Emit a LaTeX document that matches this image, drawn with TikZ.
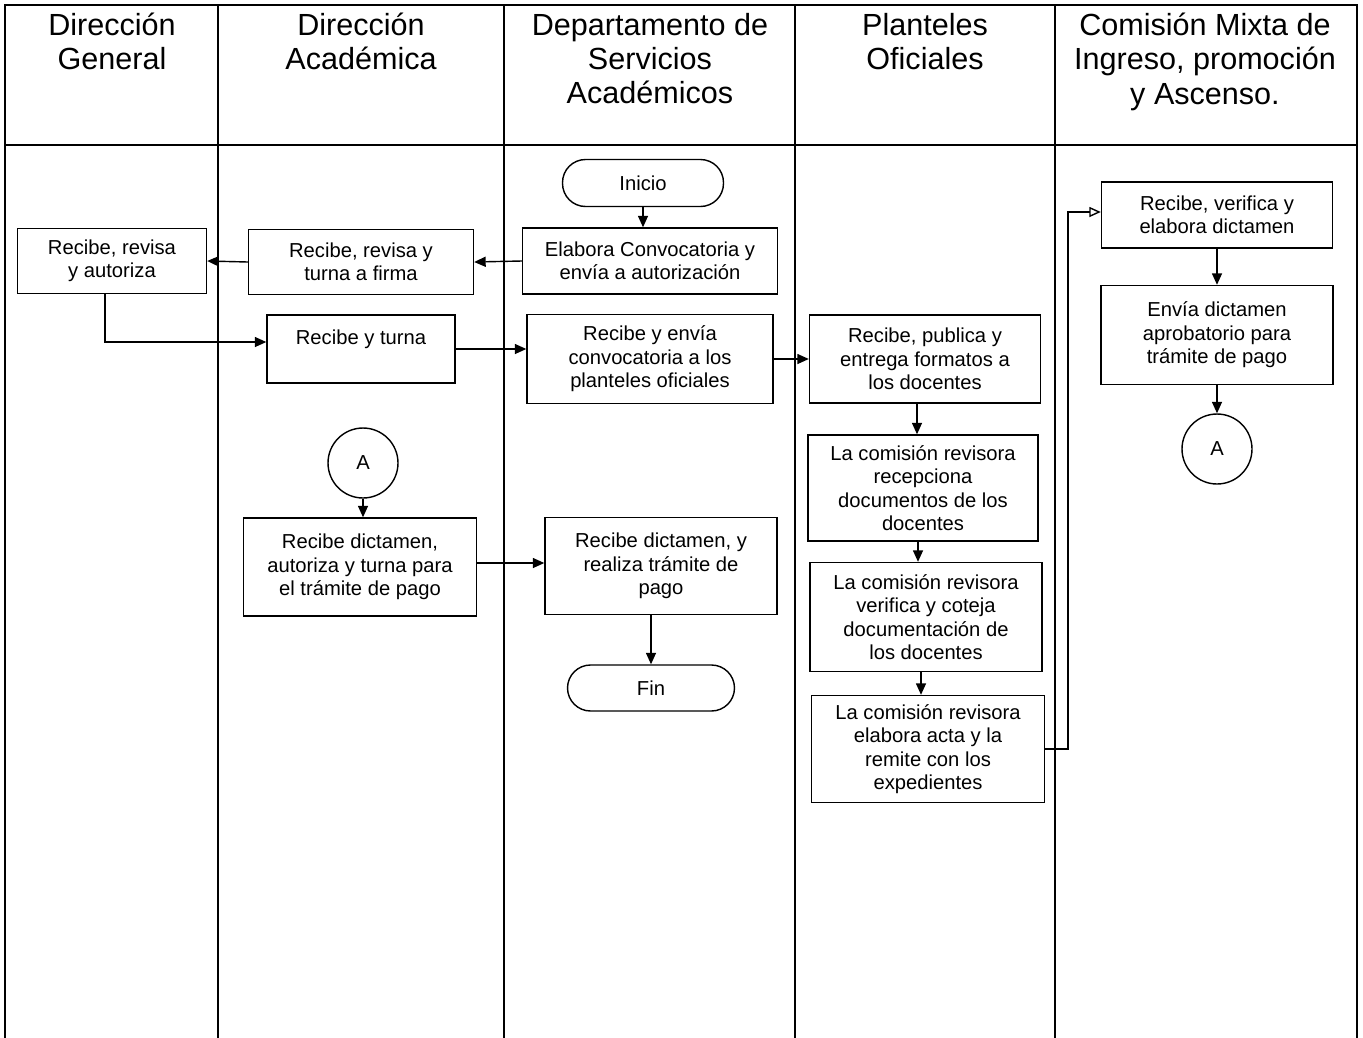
\documentclass[tikz,border=0pt]{standalone}
\usepackage{fontspec}
\setmainfont{Liberation Sans}
\usetikzlibrary{arrows.meta,calc}
\begin{document}
\begin{tikzpicture}[x=0.02cm,y=-0.02cm,
  lane/.style={line width=1pt},
  box/.style={draw,line width=0.8pt,inner sep=0pt,align=center,
    font=\fontsize{11.5}{13.3}\selectfont},
  term/.style={box,rounded corners=0.46cm},
  conn/.style={box,circle,minimum size=1.4cm},
  head/.style={anchor=north,align=center,inner sep=0pt,
    font=\fontsize{17.4}{19.4}\selectfont},
  flow/.style={line width=0.8pt,-{Triangle[length=0.23cm,width=0.2cm]}},
  openflow/.style={line width=0.8pt,-{Triangle[open,length=0.23cm,width=0.2cm]}}]
\useasboundingbox (0,0) rectangle (1363,1038);

% swimlane frame
\draw[lane] (5,1038) -- (5,5) -- (1357,5) -- (1357,1038);
\draw[lane] (5,145) -- (1357,145);
\foreach \lx in {218,504,795,1055} \draw[lane] (\lx,5) -- (\lx,1038);

% lane headings
\node[head] (h1) at (112,13) {Dirección\\General};
\node[head] (h2) at (361,13) {Dirección\\Académica};
\node[head] (h3) at (650,13) {Departamento de\\Servicios\\Académicos};
\node[head] (h4) at (925,13) {Planteles\\Oficiales};
\node[head] (h5) at (1205,13) {Comisión Mixta de\\Ingreso, promoción\\y Ascenso.};

% process steps
\node[term,minimum width=3.22cm,minimum height=0.94cm] (inicio) at (643,183) {Inicio};
\node[box,minimum width=5.1cm,minimum height=1.32cm] (elab) at (650,261) {Elabora Convocatoria y\\envía a autorización};
\node[box,minimum width=4.5cm,minimum height=1.3cm] (firma) at (361,262) {Recibe, revisa y\\turna a firma};
\node[box,minimum width=3.78cm,minimum height=1.3cm] (autor) at (112,261) {Recibe, revisa\\y autoriza};
\node[box,minimum width=3.76cm,minimum height=1.36cm] (turna) at (361,349) {Recibe y turna\\\mbox{}};
\node[box,minimum width=4.92cm,minimum height=1.78cm] (envia) at (650,359) {Recibe y envía\\convocatoria a los\\planteles oficiales};
\node[box,minimum width=4.62cm,minimum height=1.76cm] (publica) at (925,359) {Recibe, publica y\\entrega formatos a\\los docentes};
\node[box,minimum width=4.6cm,minimum height=2.12cm] (recep) at (923,488) {La comisión revisora\\recepciona\\documentos de los\\docentes};
\node[box,minimum width=4.64cm,minimum height=2.18cm] (verif) at (926,617) {La comisión revisora\\verifica y coteja\\documentación de\\los docentes};
\node[box,minimum width=4.66cm,minimum height=2.14cm] (acta) at (928,749) {La comisión revisora\\elabora acta y la\\remite con los\\expedientes};
\node[box,minimum width=4.62cm,minimum height=1.32cm] (dict) at (1217,215) {Recibe, verifica y\\elabora dictamen};
\node[box,minimum width=4.64cm,minimum height=1.98cm] (envdict) at (1217,335) {Envía dictamen\\aprobatorio para\\trámite de pago};
\node[conn] (aout) at (1217,449) {A};
\node[conn] (ain) at (363,463) {A};
\node[box,minimum width=4.66cm,minimum height=1.96cm] (autdict) at (360,567) {Recibe dictamen,\\autoriza y turna para\\el trámite de pago};
\node[box,minimum width=4.64cm,minimum height=1.94cm] (pago) at (661,566) {Recibe dictamen, y\\realiza trámite de\\pago};
\node[term,minimum width=3.34cm,minimum height=0.92cm] (fin) at (651,688) {Fin};

% connectors
\draw[flow] (inicio.south) -- (inicio.south |- elab.north);
\draw[flow] (elab.west) -- (firma.east);
\draw[flow] (firma.west) -- (autor.east);
\draw[flow] ([xshift=-0.14cm]autor.south) |- ([yshift=0.14cm]turna.west);
\draw[flow] (turna.east) -- (turna.east -| envia.west);
\draw[flow] (envia.east) -- (publica.west);
\draw[flow] ([xshift=-0.16cm]publica.south) -- ([xshift=-0.16cm]publica.south |- recep.north);
\draw[flow] ([xshift=-0.1cm]recep.south) -- ([xshift=-0.1cm]recep.south |- verif.north);
\draw[flow] ([xshift=-0.1cm]verif.south) -- ([xshift=-0.1cm]verif.south |- acta.north);
\draw[openflow] (acta.east) -- ++(23,0) |- ([yshift=0.06cm]dict.west);
\draw[flow] (dict.south) -- (envdict.north);
\draw[flow] (envdict.south) -- (aout.north);
\draw[flow] (ain.south) -- (ain.south |- autdict.north);
\draw[flow] ([yshift=0.08cm]autdict.east) -- ([yshift=0.08cm]autdict.east -| pago.west);
\draw[flow] (fin.north |- pago.south) -- (fin.north);
\end{tikzpicture}
\end{document}
